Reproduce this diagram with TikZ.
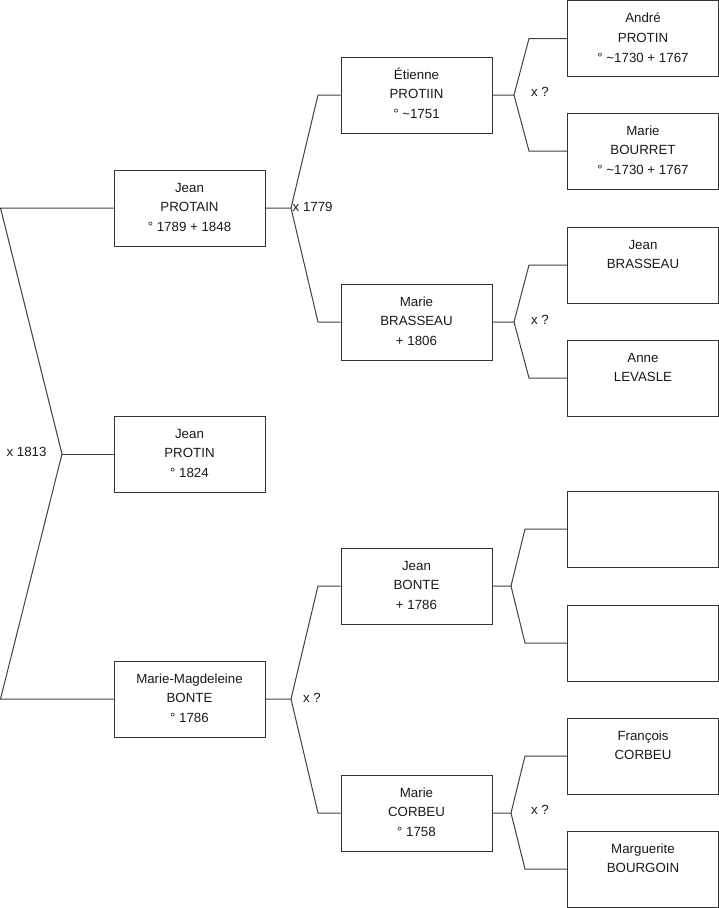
\documentclass[tikz,border=0pt]{standalone}
\usepackage{fontspec}
\setmainfont{Liberation Sans}
\newcommand\threelines[3]{\strut #1\\\strut #2\\\strut #3}
\begin{document}
\begin{tikzpicture}[x=1pt,y=-1pt,
  every node/.style={font=\fontsize{13.3}{19.6}\selectfont, text=black!90},
  person/.style={draw=black!80, line width=1pt, rectangle, minimum width=151pt, minimum height=76pt, inner sep=0pt, align=center},
  link/.style={draw=black!75, line width=1pt},
  lab/.style={inner sep=0pt}]
\useasboundingbox (0,0) rectangle (719,908);
% generation 1
\node[person] (jp)  at (189.5,208) {\threelines{Jean}{PROTAIN}{° 1789 + 1848}};
\node[person] (jpn) at (189.5,454) {\threelines{Jean}{PROTIN}{° 1824}};
\node[person] (mm)  at (189.5,699) {\threelines{Marie-Magdeleine}{BONTE}{° 1786}};
% generation 2
\node[person] (ep)  at (416.5,95)  {\threelines{Étienne}{PROTIIN}{° \textasciitilde1751}};
\node[person] (mb)  at (416.5,322) {\threelines{Marie}{BRASSEAU}{+ 1806}};
\node[person] (jb)  at (416.5,586) {\threelines{Jean}{BONTE}{+ 1786}};
\node[person] (mc)  at (416.5,813) {\threelines{Marie}{CORBEU}{° 1758}};
% generation 3
\node[person] (ap)  at (643,38.5) {\threelines{André}{PROTIN}{° \textasciitilde1730 + 1767}};
\node[person] (mbo) at (643,151)  {\threelines{Marie}{BOURRET}{° \textasciitilde1730 + 1767}};
\node[person] (jbr) at (643,265)  {\threelines{Jean}{BRASSEAU}{}};
\node[person] (al)  at (643,378)  {\threelines{Anne}{LEVASLE}{}};
\node[person] (u1)  at (643,529)  {};
\node[person] (u2)  at (643,643)  {};
\node[person] (fc)  at (643,756)  {\threelines{François}{CORBEU}{}};
\node[person] (mgb) at (643,869)  {\threelines{Marguerite}{BOURGOIN}{}};
% coordinates
\coordinate (L1) at (0.5,208);
\coordinate (L2) at (0.5,699);
\coordinate (V0) at (62,454);
\coordinate (V1) at (291,208);
\coordinate (B1a) at (318,95);
\coordinate (B1b) at (318,322);
\coordinate (V4) at (291,699);
\coordinate (B4a) at (318,586);
\coordinate (B4b) at (318,813);
\coordinate (V2) at (514,95);
\coordinate (B2a) at (529,38.5);
\coordinate (B2b) at (529,151);
\coordinate (V3) at (514,322);
\coordinate (B3a) at (529,265);
\coordinate (B3b) at (529,378);
\coordinate (V5) at (511,586);
\coordinate (B5a) at (525,529);
\coordinate (B5b) at (525,643);
\coordinate (V6) at (511,813);
\coordinate (B6a) at (525,756);
\coordinate (B6b) at (525,869);
% connectors
\draw[link] (jp.west) -- (L1) -- (V0) -- (L2) -- (mm.west);
\draw[link] (V0) -- (jpn.west);
\draw[link] (jp.east) -- (V1) -- (B1a) -- (ep.west);
\draw[link] (V1) -- (B1b) -- (mb.west);
\draw[link] (mm.east) -- (V4) -- (B4a) -- (jb.west);
\draw[link] (V4) -- (B4b) -- (mc.west);
\draw[link] (ep.east) -- (V2) -- (B2a) -- (ap.west);
\draw[link] (V2) -- (B2b) -- (mbo.west);
\draw[link] (mb.east) -- (V3) -- (B3a) -- (jbr.west);
\draw[link] (V3) -- (B3b) -- (al.west);
\draw[link] (jb.east) -- (V5) -- (B5a) -- (u1.west);
\draw[link] (V5) -- (B5b) -- (u2.west);
\draw[link] (mc.east) -- (V6) -- (B6a) -- (fc.west);
\draw[link] (V6) -- (B6b) -- (mgb.west);
% labels
\node[lab] (x0) at (26.5,452) {x 1813};
\node[lab, anchor=west] (x1) at (292.5,207) {x 1779};
\node[lab] (x4) at (312,698) {x ?};
\node[lab] (x2) at (540,92) {x ?};
\node[lab] (x3) at (540,320) {x ?};
\node[lab] (x6) at (540,810) {x ?};
\end{tikzpicture}
\end{document}
